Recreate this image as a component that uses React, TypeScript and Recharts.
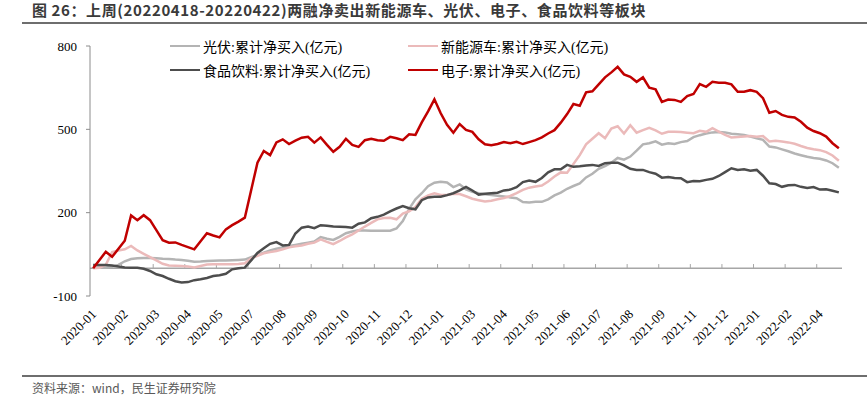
import React from "react";
import { LineChart, Line, XAxis, YAxis, ReferenceLine } from "recharts";

// 刻度标签（每5周一个）
const tickLabels = [
  "2020-01", "2020-02", "2020-03", "2020-04", "2020-05", "2020-07", "2020-08", "2020-09",
  "2020-10", "2020-11", "2020-12", "2021-01", "2021-03", "2021-04", "2021-05", "2021-06",
  "2021-07", "2021-08", "2021-09", "2021-11", "2021-12", "2022-01", "2022-02", "2022-04",
];

const yTicks = [-100, 200, 500, 800];

// 光伏:累计净买入(亿元)
const guangfu = [
  2, 3, 3, 5, 12, 25, 33, 36, 37, 37, 36, 34, 33, 31, 30, 27, 23, 24, 26, 27,
  28, 28, 29, 30, 31, 40, 48, 56, 64, 70, 75, 80, 84, 88, 92, 96, 112, 106, 102, 113,
  126, 132, 137, 136, 135, 135, 135, 135, 143, 170, 214, 248, 270, 295, 308, 311, 309, 292, 302, 284,
  275, 270, 266, 264, 261, 258, 255, 252, 238, 237, 239, 239, 248, 262, 272, 286, 296, 305, 327, 340,
  358, 368, 380, 397, 391, 402, 423, 446, 450, 457, 445, 450, 447, 454, 458, 472, 479, 485, 489, 490,
  489, 484, 482, 480, 474, 468, 462, 438, 435, 428, 421, 413, 407, 401, 397, 394, 388, 378, 362,
];

// 新能源车:累计净买入(亿元)
const xinnengyuan = [
  0, 2, 12, 58, 64, 68, 80, 64, 52, 40, 28, 16, 10, 9, 8, 6, 3, 8, 13, 14,
  14, 14, 14, 15, 18, 36, 45, 54, 58, 62, 68, 75, 79, 82, 88, 92, 104, 95, 87, 98,
  111, 122, 136, 150, 163, 176, 181, 182, 176, 197, 205, 220, 250, 262, 270, 264, 264, 268, 267, 259,
  250, 245, 240, 243, 248, 253, 260, 270, 282, 290, 294, 298, 312, 330, 345, 344, 375, 407, 446, 466,
  486, 468, 503, 511, 485, 515, 488, 497, 505, 496, 484, 491, 491, 490, 488, 486, 495, 491, 504, 492,
  480, 471, 472, 474, 476, 473, 476, 456, 459, 456, 453, 448, 440, 433, 428, 425, 418, 406, 387,
];

// 食品饮料:累计净买入(亿元)
const shipin = [
  12, 12, 12, 10, 6, 3, 2, 2, -2, -10, -22, -28, -38, -47, -51, -50, -43, -40, -35, -28,
  -25, -20, -4, 0, 2, 28, 55, 72, 88, 94, 82, 84, 125, 146, 150, 144, 155, 153, 150, 149,
  148, 146, 160, 165, 180, 185, 193, 205, 215, 224, 216, 212, 245, 255, 257, 257, 263, 270, 280, 293,
  280, 265, 268, 270, 272, 280, 283, 292, 310, 316, 311, 325, 345, 356, 356, 372, 365, 367, 370, 372,
  368, 378, 380, 380, 370, 358, 354, 354, 346, 340, 326, 328, 325, 324, 310, 314, 313, 318, 322, 332,
  346, 360, 354, 356, 351, 354, 333, 306, 303, 293, 299, 300, 293, 289, 292, 283, 284, 279, 273,
];

// 电子:累计净买入(亿元)
const dianzi = [
  0, 30, 59, 41, 70, 99, 190, 173, 191, 173, 137, 101, 92, 93, 84, 76, 68, 97, 126, 118,
  111, 140, 155, 168, 182, 281, 380, 422, 407, 453, 464, 447, 459, 470, 473, 452, 471, 444, 419, 437,
  466, 444, 437, 461, 466, 461, 459, 473, 468, 461, 482, 480, 525, 565, 608, 558, 516, 488, 519, 498,
  491, 464, 446, 443, 447, 454, 450, 455, 447, 454, 461, 471, 485, 497, 524, 555, 591, 585, 633, 637,
  662, 687, 705, 725, 698, 689, 671, 687, 650, 644, 599, 607, 606, 599, 620, 627, 663, 653, 671, 668,
  668, 662, 635, 635, 641, 635, 612, 560, 566, 552, 545, 543, 527, 506, 494, 486, 474, 450, 432,
];

const series = [
  { key: "gf", name: "光伏:累计净买入(亿元)", color: "#b4b4b4" },
  { key: "xny", name: "新能源车:累计净买入(亿元)", color: "#ebbaba" },
  { key: "sp", name: "食品饮料:累计净买入(亿元)", color: "#4d4d4d" },
  { key: "dz", name: "电子:累计净买入(亿元)", color: "#c00000" },
];

const data = dianzi.map((_, i) => ({
  i,
  gf: guangfu[i],
  xny: xinnengyuan[i],
  sp: shipin[i],
  dz: dianzi[i],
}));

const xTicks = tickLabels.map((_, k) => k * 5 - 0.5);

const serif = '"Liberation Serif", "Times New Roman", "Noto Sans CJK SC", serif';
const sans = '"Noto Sans CJK SC", "Noto Sans", sans-serif';

const XTick = (props: any) => {
  const { x, y, payload } = props;
  const k = Math.round((payload.value + 0.5) / 5);
  const tx = x + 7;
  const ty = y + 17;
  return (
    <text
      x={tx}
      y={ty}
      transform={`rotate(-45 ${tx} ${ty})`}
      textAnchor="end"
      fontSize={13}
      fontFamily={serif}
      fill="#000"
    >
      {tickLabels[k]}
    </text>
  );
};

const legendPos = [
  { left: 170, top: 46 },
  { left: 408, top: 46 },
  { left: 170, top: 70 },
  { left: 408, top: 70 },
];

export default function App() {
  return (
    <div
      style={{
        position: "absolute",
        left: 0,
        top: 0,
        width: 867,
        height: 397,
        background: "#fff",
        overflow: "hidden",
      }}
    >
      <div
        style={{
          position: "absolute",
          left: 32,
          top: 1,
          fontFamily: sans,
          fontWeight: 700,
          fontSize: 15,
          lineHeight: "17px",
          letterSpacing: 0.6,
          color: "#3a3a3a",
          whiteSpace: "nowrap",
        }}
      >
        图 26：上周(20220418-20220422)两融净卖出新能源车、光伏、电子、食品饮料等板块
      </div>
      <div style={{ position: "absolute", left: 22, right: 0, top: 22, height: 2, background: "#6e6e6e" }} />

      <div style={{ position: "absolute", left: 0, top: 0 }}>
        <LineChart width={867} height={370} data={data} margin={{ top: 46, right: 25, left: 50, bottom: 14 }}>
          <XAxis
            type="number"
            dataKey="i"
            domain={[-0.5, 118.5]}
            ticks={xTicks}
            interval={0}
            axisLine={false}
            tickLine={false}
            tickSize={0}
            height={60}
            tick={<XTick />}
          />
          <YAxis
            domain={[-100, 800]}
            ticks={yTicks}
            width={40}
            tickSize={4}
            tickMargin={9}
            axisLine={{ stroke: "#8c8c8c" }}
            tickLine={{ stroke: "#8c8c8c" }}
            tick={{ fill: "#000", fontSize: 13, fontFamily: serif }}
          />
          <ReferenceLine y={0} stroke="#a6a6a6" strokeWidth={1.5} />
          {xTicks.slice(1).map((t) => (
            <ReferenceLine
              key={t}
              segment={[
                { x: t, y: 0 },
                { x: t, y: 15 },
              ]}
              stroke="#a6a6a6"
              strokeWidth={1}
            />
          ))}
          {series.map((s) => (
            <Line
              key={s.key}
              type="linear"
              dataKey={s.key}
              name={s.name}
              stroke={s.color}
              strokeWidth={2.5}
              dot={false}
              isAnimationActive={false}
            />
          ))}
        </LineChart>
      </div>

      {series.map((s, idx) => (
        <div
          key={s.key}
          style={{
            position: "absolute",
            left: legendPos[idx].left,
            top: legendPos[idx].top - 10,
            height: 20,
            display: "flex",
            alignItems: "center",
            whiteSpace: "nowrap",
          }}
        >
          <span style={{ display: "inline-block", width: 30, height: 2.5, background: s.color }} />
          <span style={{ marginLeft: 3, fontFamily: serif, fontSize: 14, color: "#000" }}>{s.name}</span>
        </div>
      ))}

      <div style={{ position: "absolute", left: 22, right: 0, top: 375, height: 1.5, background: "#6e6e6e" }} />
      <div
        style={{
          position: "absolute",
          left: 32,
          top: 380,
          fontFamily: sans,
          fontSize: 12,
          lineHeight: "16px",
          color: "#595959",
          whiteSpace: "nowrap",
        }}
      >
        资料来源：wind，民生证券研究院
      </div>
    </div>
  );
}
